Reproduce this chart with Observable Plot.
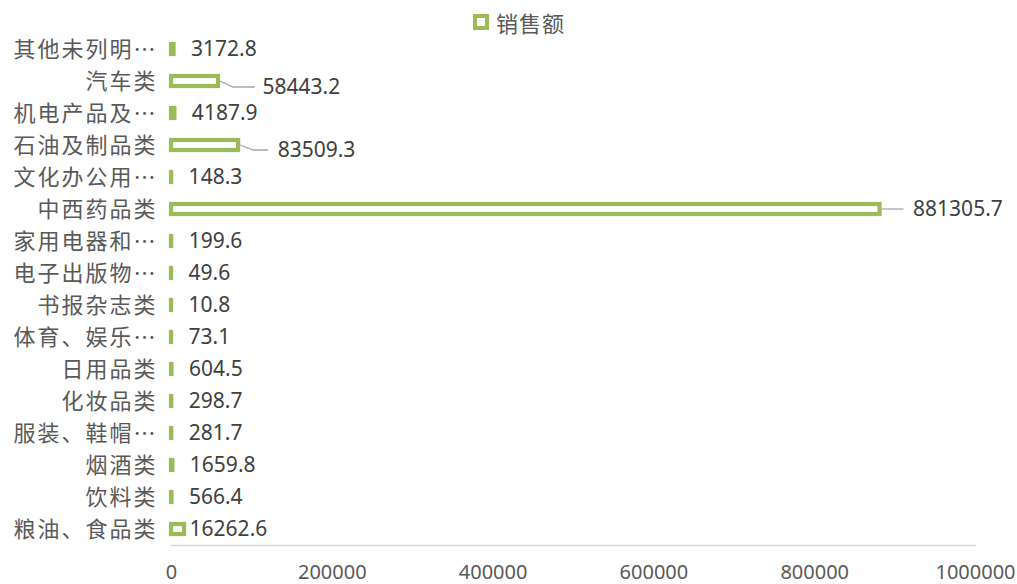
<!DOCTYPE html>
<html>
<head>
<meta charset="utf-8">
<script src="https://cdn.jsdelivr.net/npm/d3@7"></script>
<script src="https://cdn.jsdelivr.net/npm/@observablehq/plot@0.6"></script>
<style>
  html, body { margin: 0; padding: 0; background: #fff; }
  #wrap { position: relative; width: 1017px; height: 584px; overflow: hidden; }
  #legend { position: absolute; left: 0; top: 0; width: 1017px; height: 44px; pointer-events: none; }
  #legend .sw { position: absolute; left: 473px; top: 14px; width: 16px; height: 16px; box-sizing: border-box; border: 4px solid #9bbb59; background: #fff; }
  #legend .tx { position: absolute; left: 496px; top: 6px; font: 22px "Noto Sans CJK SC", sans-serif; color: #595959; line-height: 32px; letter-spacing: 1px; }
</style>
</head>
<body>
<div id="wrap">
  <div id="chart"></div>
  <div id="legend"><div class="sw"></div><div class="tx">销售额</div></div>
</div>
<script>
const seriesName = "销售额";
const categories = ["其他未列明…", "汽车类", "机电产品及…", "石油及制品类", "文化办公用…", "中西药品类", "家用电器和…", "电子出版物…", "书报杂志类", "体育、娱乐…", "日用品类", "化妆品类", "服装、鞋帽…", "烟酒类", "饮料类", "粮油、食品类"];
const values = [3172.8, 58443.2, 4187.9, 83509.3, 148.3, 881305.7, 199.6, 49.6, 10.8, 73.1, 604.5, 298.7, 281.7, 1659.8, 566.4, 16262.6];
const xTicks = [0, 200000, 400000, 600000, 800000, 1000000];

const data = categories.map((c, i) => ({category: c, value: values[i]}));

// label placement (Excel-like manual label positions with leader lines)
const leader = {
  "汽车类": {pts: [[2, 0], [15, 6], [37, 6]], dx: 44, dy: 6},
  "石油及制品类": {pts: [[2, 0], [15, 5], [30, 5]], dx: 39, dy: 5},
  "中西药品类": {pts: [[2, 0], [24, 0]], dx: 33, dy: 0},
  "粮油、食品类": {pts: null, dx: 5, dy: 0}
};

const green = "#9bbb59";
const numFont = "'Noto Sans', 'DejaVu Sans', sans-serif";
const cjkFont = "'Noto Sans CJK SC', sans-serif";

const normal = data.filter(d => !leader[d.category]);
const specialMarks = data.filter(d => leader[d.category]).map(d =>
  Plot.text([d], {x: "value", y: "category", text: d => d.value.toFixed(1),
    textAnchor: "start", dx: leader[d.category].dx, dy: leader[d.category].dy,
    fontSize: 21, fill: "#404040", fontFamily: numFont})
);

const plot = Plot.plot({
  width: 1017,
  height: 584,
  marginTop: 33,
  marginBottom: 39,
  marginLeft: 171,
  marginRight: 42,
  style: {background: "#fff"},
  x: {domain: [0, 1000000], ticks: xTicks},
  y: {domain: categories, padding: 0},
  marks: [
    Plot.frame({anchor: "bottom", stroke: "#d9d9d9", strokeWidth: 1.3}),
    Plot.barX(data, {x: "value", y: "category", fill: "#fff", stroke: green, strokeWidth: 4.2,
      insetTop: 11, insetBottom: 11}),
    Plot.text(normal, {x: "value", y: "category", text: d => d.value.toFixed(1),
      textAnchor: "start", dx: 17, fontSize: 21, fill: "#404040", fontFamily: numFont}),
    ...specialMarks,
    Plot.axisX({ticks: xTicks, tickSize: 0, tickPadding: 19, tickFormat: d => String(d),
      fontSize: 20, fill: "#595959", fontFamily: numFont, label: null}),
    Plot.axisY({tickSize: 0, tickPadding: 14, fontSize: 22, fill: "#595959",
      fontFamily: cjkFont, label: null})
  ]
});

document.getElementById("chart").appendChild(plot);

// y-axis label spacing like the reference
d3.select(plot).selectAll("[aria-label='y-axis tick label'] text").attr("letter-spacing", "2px");

// leader lines drawn from the library's scales
const xs = plot.scale("x"), ys = plot.scale("y");
const svg = d3.select(plot);
data.forEach(d => {
  const L = leader[d.category];
  if (!L || !L.pts) return;
  const x0 = xs.apply(d.value);
  const y0 = ys.apply(d.category) + ys.bandwidth / 2;
  svg.append("path")
    .attr("d", d3.line()(L.pts.map(([a, b]) => [x0 + a, y0 + b])))
    .attr("fill", "none")
    .attr("stroke", "#a6a6a6")
    .attr("stroke-width", 1.3);
});
</script>
</body>
</html>
